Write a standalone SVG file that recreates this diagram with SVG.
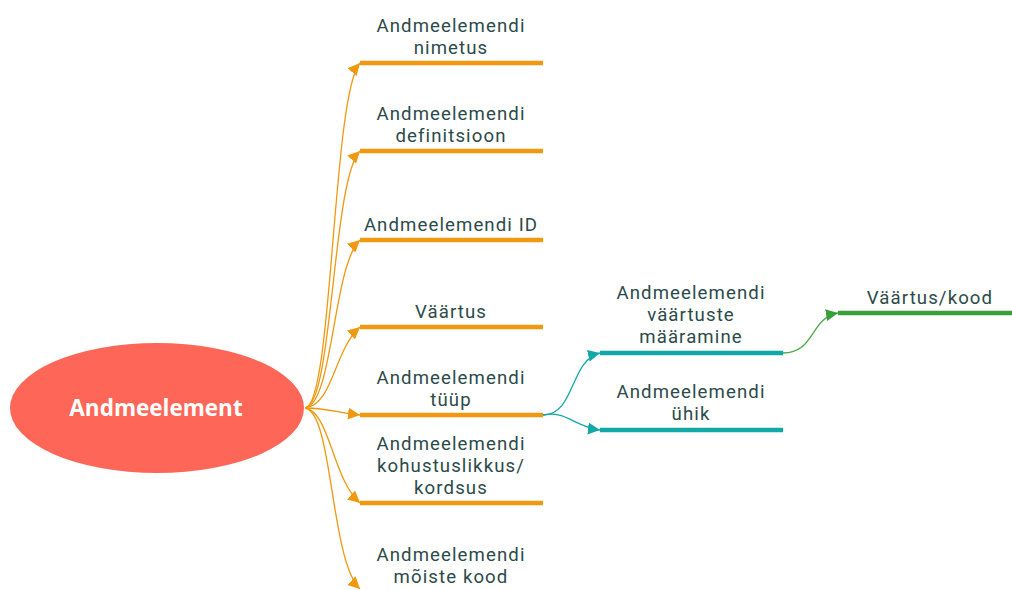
<svg xmlns="http://www.w3.org/2000/svg" width="1012" height="590" viewBox="0 0 1012 590">
  <style>
    .lbl { font-family: Roboto, "Open Sans", sans-serif; font-size: 18.6px; letter-spacing: 1.1px; fill: #2b4a4a; text-anchor: middle; }
    .root { font-family: "Open Sans", "Noto Sans", sans-serif; font-size: 22.5px; font-weight: bold; fill: #ffffff; text-anchor: middle; }
    .bar-o { stroke: #f0980f; stroke-width: 4.5; }
    .bar-t { stroke: #13a8a8; stroke-width: 4.5; }
    .bar-g { stroke: #3a9e3a; stroke-width: 4.5; }
    .c-o { fill: none; stroke: #f0980f; stroke-width: 1.3; marker-end: url(#ah-o); }
    .c-t { fill: none; stroke: #13a8a8; stroke-width: 1.3; marker-end: url(#ah-t); }
    .c-g { fill: none; stroke: #4aa84a; stroke-width: 1.3; marker-end: url(#ah-g); }
  </style>
  <defs>
    <marker id="ah-o" viewBox="0 0 10 10" refX="10" refY="5" markerWidth="12" markerHeight="12" markerUnits="userSpaceOnUse" orient="auto">
      <path d="M0,0 L10,5 L0,10 Z" fill="#f0980f"/>
    </marker>
    <marker id="ah-t" viewBox="0 0 10 10" refX="10" refY="5" markerWidth="12" markerHeight="12" markerUnits="userSpaceOnUse" orient="auto">
      <path d="M0,0 L10,5 L0,10 Z" fill="#13a8a8"/>
    </marker>
    <marker id="ah-g" viewBox="0 0 10 10" refX="10" refY="5" markerWidth="12" markerHeight="12" markerUnits="userSpaceOnUse" orient="auto">
      <path d="M0,0 L10,5 L0,10 Z" fill="#3a9e3a"/>
    </marker>
  </defs>
  <rect width="1012" height="590" fill="#ffffff"/>

  <!-- connectors -->
  <g id="connectors">
    <path class="c-o" d="M305,408 C333,405 332,95 360,63"/>
    <path class="c-o" d="M305,408 C333,405 332,180 360,151"/>
    <path class="c-o" d="M305,408 C333,405 333,265 360,240"/>
    <path class="c-o" d="M305,408 C333,405 334,350 360,327"/>
    <path class="c-o" d="M305,408 C325,408 335,412 360,415"/>
    <path class="c-o" d="M305,408 C330,412 332,478 360,503"/>
    <path class="c-o" d="M305,408 C333,412 330,560 360,589"/>
    <path class="c-t" d="M543,415 C575,415 570,360 600,353"/>
    <path class="c-t" d="M543,415 C565,410 575,427 600,430"/>
    <path class="c-g" d="M783,353 C815,353 810,318 838,313"/>
  </g>

  <!-- root -->
  <g id="root">
    <ellipse cx="157" cy="408" rx="147" ry="65" fill="#fe6657"/>
    <text class="root" x="156" y="416">Andmeelement</text>
  </g>

  <g id="n-nimetus">
    <line class="bar-o" x1="360" y1="63" x2="543" y2="63"/>
    <text class="lbl" x="451" y="32">Andmeelemendi</text>
    <text class="lbl" x="451" y="54">nimetus</text>
  </g>
  <g id="n-definitsioon">
    <line class="bar-o" x1="360" y1="151" x2="543" y2="151"/>
    <text class="lbl" x="451" y="120">Andmeelemendi</text>
    <text class="lbl" x="451" y="142">definitsioon</text>
  </g>
  <g id="n-id">
    <line class="bar-o" x1="360" y1="240" x2="543" y2="240"/>
    <text class="lbl" x="451" y="231">Andmeelemendi ID</text>
  </g>
  <g id="n-vaartus">
    <line class="bar-o" x1="360" y1="327" x2="543" y2="327"/>
    <text class="lbl" x="451" y="318">Väärtus</text>
  </g>
  <g id="n-tyyp">
    <line class="bar-o" x1="360" y1="415" x2="543" y2="415"/>
    <text class="lbl" x="451" y="384">Andmeelemendi</text>
    <text class="lbl" x="451" y="406">tüüp</text>
  </g>
  <g id="n-kohustuslikkus">
    <line class="bar-o" x1="360" y1="503" x2="543" y2="503"/>
    <text class="lbl" x="451" y="450">Andmeelemendi</text>
    <text class="lbl" x="451" y="472">kohustuslikkus/</text>
    <text class="lbl" x="451" y="494">kordsus</text>
  </g>
  <g id="n-moiste">
    <line class="bar-o" x1="360" y1="593" x2="543" y2="593"/>
    <text class="lbl" x="451" y="561">Andmeelemendi</text>
    <text class="lbl" x="451" y="583">mõiste kood</text>
  </g>

  <g id="n-maaramine">
    <line class="bar-t" x1="600" y1="353" x2="783" y2="353"/>
    <text class="lbl" x="691" y="299">Andmeelemendi</text>
    <text class="lbl" x="691" y="321">väärtuste</text>
    <text class="lbl" x="691" y="343">määramine</text>
  </g>
  <g id="n-uhik">
    <line class="bar-t" x1="600" y1="430" x2="783" y2="430"/>
    <text class="lbl" x="691" y="398">Andmeelemendi</text>
    <text class="lbl" x="691" y="420">ühik</text>
  </g>

  <g id="n-kood">
    <line class="bar-g" x1="838" y1="313" x2="1012" y2="313"/>
    <text class="lbl" x="930" y="304">Väärtus/kood</text>
  </g>
</svg>
